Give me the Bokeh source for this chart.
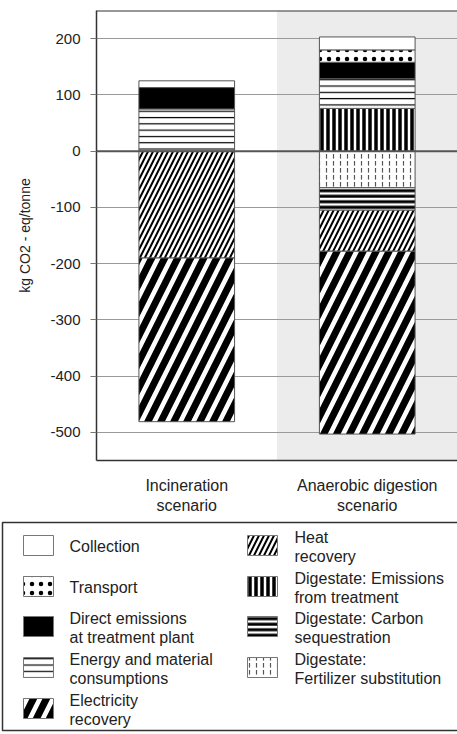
import numpy as np
from bokeh.plotting import figure
from bokeh.models import Range1d, FixedTicker, BoxAnnotation, Span, ColumnDataSource
from bokeh.embed import file_html
from bokeh.resources import INLINE
from bokeh.core.properties import value

# ---------------- data (kg CO2-eq / tonne) ----------------
scenarios = ["Incineration\nscenario", "Anaerobic digestion\nscenario"]
collection = [12, 23]
transport = [0, 22]
direct_emissions = [38, 29]
energy_material = [75, 53]
electricity_recovery = [-291, -325]
heat_recovery = [-190, -73]
digestate_emissions = [0, 76]
digestate_carbon = [0, -40]
digestate_fertilizer = [0, -65]

y_ticks = [-500, -400, -300, -200, -100, 0, 100, 200]

# series in stacking order (positives stack up from 0, negatives down from 0)
stack_order = [
    ("Digestate:\nFertilizer substitution", digestate_fertilizer),
    ("Digestate: Carbon\nsequestration", digestate_carbon),
    ("Digestate: Emissions\nfrom treatment", digestate_emissions),
    ("Energy and material\nconsumptions", energy_material),
    ("Direct emissions\nat treatment plant", direct_emissions),
    ("Transport", transport),
    ("Collection", collection),
    ("Heat\nrecovery", heat_recovery),
    ("Electricity\nrecovery", electricity_recovery),
]

# visual style per series: fill, hatch pattern, hatch scale, hatch weight, hatch colour
styles = {
    "Collection": ("white", " ", 8, 1, "black"),
    "Transport": ("white", ".", 9, 0.6, "black"),
    "Direct emissions\nat treatment plant": ("black", " ", 8, 1, "black"),
    "Energy and material\nconsumptions": ("white", "-", 6.3, 1.2, "black"),
    "Electricity\nrecovery": ("white", "/", 26, 7, "black"),
    "Heat\nrecovery": ("white", "/", 10, 2, "black"),
    "Digestate: Emissions\nfrom treatment": ("white", "|", 6, 3.5, "black"),
    "Digestate: Carbon\nsequestration": ("white", "-", 5.5, 3, "black"),
    "Digestate:\nFertilizer substitution": ("white", ":", 7, 1.2, "#555555"),
}

legend_left = ["Collection", "Transport", "Direct emissions\nat treatment plant",
               "Energy and material\nconsumptions", "Electricity\nrecovery"]
legend_right = ["Heat\nrecovery", "Digestate: Emissions\nfrom treatment",
                "Digestate: Carbon\nsequestration", "Digestate:\nFertilizer substitution"]

FONT = "Liberation Sans"
TXT = "#222222"

# ---------------- build stacked segments ----------------
x_pos = [0.5, 1.5]
rows = dict(x=[], bottom=[], top=[], fill=[], hp=[], hs=[], hw=[], hc=[])
for i, xp in enumerate(x_pos):
    pos, neg = 0.0, 0.0
    for name, vals in stack_order:
        v = vals[i]
        if v == 0:
            continue
        if v > 0:
            b, t = pos, pos + v
            pos = t
        else:
            b, t = neg + v, neg
            neg = b
        f, hp, hs, hw, hc = styles[name]
        rows["x"].append(xp); rows["bottom"].append(b); rows["top"].append(t)
        rows["fill"].append(f); rows["hp"].append(hp); rows["hs"].append(hs)
        rows["hw"].append(hw); rows["hc"].append(hc)
src = ColumnDataSource(rows)

W = 457
H1 = 516
p = figure(width=W, height=H1, x_range=Range1d(0, 2), y_range=Range1d(-550, 250),
           output_backend="svg", toolbar_location=None,
           min_border_left=96, min_border_right=0, min_border_top=10,
           min_border_bottom=H1 - 463)
p.outline_line_color = None
p.background_fill_color = "white"
p.border_fill_color = "white"

p.add_layout(BoxAnnotation(left=1, right=2, fill_color="#ececec", fill_alpha=1,
                           line_color=None, level="image"))

p.vbar(x="x", bottom="bottom", top="top", width=0.53, source=src,
       fill_color="fill", hatch_pattern="hp", hatch_scale="hs", hatch_weight="hw",
       hatch_color="hc", line_color="#555555", line_width=1)

p.add_layout(Span(location=0, dimension="width", line_color="#555555", line_width=2))
p.add_layout(Span(location=250, dimension="width", line_color="#333333", line_width=2))

p.xgrid.visible = False
p.ygrid.ticker = FixedTicker(ticks=y_ticks)
p.ygrid.grid_line_color = "#9a9a9a"
p.ygrid.grid_line_width = 1

ya = p.yaxis[0]
ya.ticker = FixedTicker(ticks=y_ticks)
ya.major_label_overrides = {t: str(t) for t in y_ticks}
ya.axis_label = "kg CO2 - eq/tonne"
ya.axis_label_text_font = FONT
ya.axis_label_text_font_size = "14px"
ya.axis_label_text_font_style = "normal"
ya.axis_label_text_color = TXT
ya.axis_label_standoff = 14
ya.major_label_text_font = FONT
ya.major_label_text_font_size = "15px"
ya.major_label_text_color = TXT
ya.major_label_standoff = 10
ya.major_tick_out = 6
ya.major_tick_in = 0
ya.major_tick_line_color = "#777777"
ya.minor_tick_line_color = None
ya.axis_line_color = "#333333"
ya.axis_line_width = 1.5

xa = p.xaxis[0]
xa.ticker = FixedTicker(ticks=x_pos)
xa.major_label_overrides = {x_pos[i]: scenarios[i] for i in range(2)}
xa.major_label_text_font = FONT
xa.major_label_text_font_size = "16px"
xa.major_label_text_color = TXT
xa.major_label_standoff = 10
xa.major_tick_line_color = None
xa.minor_tick_line_color = None
xa.axis_line_color = "#333333"
xa.axis_line_width = 1.5

# ---------------- legend panel (coordinates = page pixels) ----------------
H2 = 216
top0 = H1
q = figure(width=W, height=H2, x_range=Range1d(0, W), y_range=Range1d(H2, 0),
           output_backend="svg", toolbar_location=None, min_border=0)
q.axis.visible = False
q.grid.visible = False
q.outline_line_color = None

q.quad(left=[2], right=[W + 10], top=[522 - top0], bottom=[730 - top0],
       fill_color="white", line_color="#333333", line_width=1.5)

row_y = [546, 587, 627, 668, 709]
sw = dict(x=[], y=[], fill=[], hp=[], hs=[], hw=[], hc=[])
tx = dict(x=[], y=[], text=[])
for col_items, sx, txx in ((legend_left, 38, 69), (legend_right, 262, 294)):
    for j, name in enumerate(col_items):
        cy = row_y[j] - top0
        f, hp, hs, hw, hc = styles[name]
        sw["x"].append(sx); sw["y"].append(cy - 1)
        sw["fill"].append(f); sw["hp"].append(hp); sw["hs"].append(hs)
        sw["hw"].append(hw); sw["hc"].append(hc)
        lines = name.split("\n")
        n = len(lines)
        for k, ln in enumerate(lines):
            tx["x"].append(txx)
            tx["y"].append(cy + (k - (n - 1) / 2) * 19)
            tx["text"].append(ln)

q.rect(x="x", y="y", width=30, height=20, source=ColumnDataSource(sw),
       fill_color="fill", hatch_pattern="hp", hatch_scale="hs", hatch_weight="hw",
       hatch_color="hc", line_color="#777777", line_width=1)
q.text(x="x", y="y", text="text", source=ColumnDataSource(tx),
       text_font=value(FONT), text_font_size="16px", text_color=TXT,
       text_baseline="middle", text_align="left")

open("out.html", "w").write(file_html([p, q], INLINE))
